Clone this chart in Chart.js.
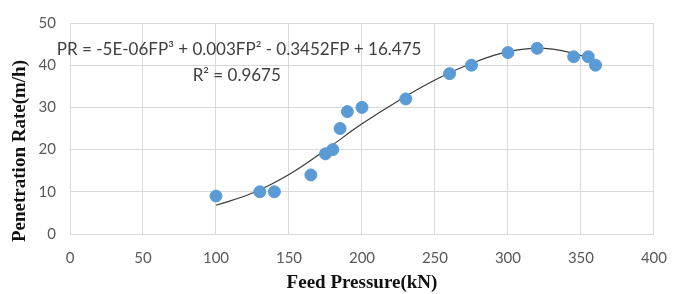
<!DOCTYPE html>
<html>
<head>
<meta charset="utf-8">
<script src="https://cdn.jsdelivr.net/npm/chart.js@4"></script>
<style>
  html, body { margin: 0; padding: 0; background: #fff; }
  #wrap { width: 682px; height: 294px; }
</style>
</head>
<body>
<div id="wrap"><canvas id="chart" width="682" height="294"></canvas></div>
<script>
// measured points: feed pressure (kN) vs penetration rate (m/h)
const feedPressure = [100, 130, 140, 165, 175, 180, 185, 190, 200, 230, 260, 275, 300, 320, 345, 355, 360];
const penRate      = [9, 10, 10, 14, 19, 20, 25, 29, 30, 32, 38, 40, 43, 44, 42, 42, 40];

// trendline
const trendX = [100, 125, 150, 175, 200, 225, 250, 275, 300, 325, 350, 360];
const trendY = [6.8, 9.7, 14.1, 19.9, 26.1, 31.6, 36.5, 40.4, 43.2, 44.0, 42.3, 40.2];

const xTicks = [0, 50, 100, 150, 200, 250, 300, 350, 400];
const yTicks = [0, 10, 20, 30, 40, 50];

const equation = 'PR = -5E-06FP\u00B3 + 0.003FP\u00B2 - 0.3452FP + 16.475';
const rSquared = 'R\u00B2 = 0.9675';
const yTitle = 'Penetration Rate(m/h)';

const pts = feedPressure.map((x, i) => ({ x: x, y: penRate[i] }));
const trend = trendX.map((x, i) => ({ x: x, y: trendY[i] }));

const titleFont = 'bold 19px "Liberation Serif", "Times New Roman", serif';

// equation label + y title (sits a bit low, like the original)
const labels = {
  id: 'labels',
  afterDraw(chart) {
    const ctx = chart.ctx;
    const xs = chart.scales.x, ys = chart.scales.y;
    ctx.save();
    ctx.fillStyle = '#404040';
    ctx.font = '17px Lato, "Open Sans", sans-serif';
    ctx.textBaseline = 'middle';
    ctx.textAlign = 'left';
    ctx.fillText(equation, xs.getPixelForValue(-9), ys.getPixelForValue(43.6));
    ctx.fillText(rSquared, xs.getPixelForValue(84), ys.getPixelForValue(37.5));

    ctx.fillStyle = '#111';
    ctx.font = titleFont;
    ctx.translate(20, 151);
    ctx.rotate(-Math.PI / 2);
    ctx.textAlign = 'center';
    ctx.fillText(yTitle, 0, 0);
    ctx.restore();
  }
};

const grid = '#d9d9d9';
const tickFont = { size: 15, family: 'Lato, "Open Sans", sans-serif' };

new Chart(document.getElementById('chart'), {
  type: 'scatter',
  data: {
    datasets: [
      {
        label: 'Trend',
        data: trend,
        showLine: true,
        borderColor: '#3a3a3a',
        borderWidth: 1.2,
        pointRadius: 0,
        tension: 0.4,
        order: 2
      },
      {
        label: 'PR',
        data: pts,
        backgroundColor: '#5b9bd5',
        borderColor: '#5b9bd5',
        pointRadius: 6,
        pointHoverRadius: 6,
        order: 1
      }
    ]
  },
  options: {
    responsive: false,
    animation: false,
    layout: { padding: { top: 7, right: 26, bottom: 0, left: 0 } },
    plugins: { legend: { display: false }, tooltip: { enabled: false } },
    scales: {
      x: {
        type: 'linear',
        min: 0, max: 400,
        afterBuildTicks: s => { s.ticks = xTicks.map(v => ({ value: v })); },
        afterFit: s => { s.height = 60; },
        grid: { color: grid, drawTicks: false },
        border: { color: grid },
        ticks: { color: '#595959', padding: 15, font: tickFont },
        title: {
          display: true,
          text: 'Feed Pressure(kN)',
          color: '#111',
          font: { size: 19, weight: 'bold', family: '"Liberation Serif", "Times New Roman", serif' },
          padding: { top: 0, bottom: 0 }
        }
      },
      y: {
        min: 0, max: 50,
        afterBuildTicks: s => { s.ticks = yTicks.map(v => ({ value: v })); },
        afterFit: s => { s.width = 70; },
        grid: { color: grid, drawTicks: false },
        border: { color: grid },
        ticks: { color: '#595959', padding: 14, font: tickFont },
        title: { display: false }
      }
    }
  },
  plugins: [labels]
});
</script>
</body>
</html>
